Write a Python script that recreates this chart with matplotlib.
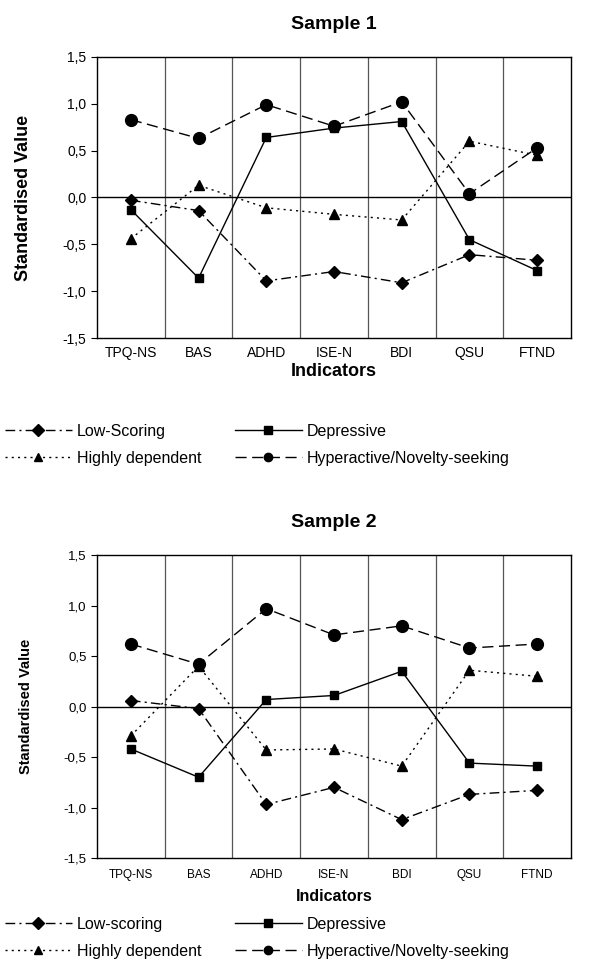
import matplotlib
matplotlib.use("Agg")
import matplotlib.pyplot as plt
from matplotlib.ticker import FuncFormatter

# ================================================================
# Data
# ================================================================
indicators = ["TPQ-NS", "BAS", "ADHD", "ISE-N", "BDI", "QSU", "FTND"]

s1_low = [-0.03, -0.14, -0.89, -0.79, -0.91, -0.61, -0.67]
s1_dep = [-0.13, -0.86, 0.64, 0.74, 0.81, -0.45, -0.78]
s1_high = [-0.44, 0.13, -0.11, -0.18, -0.24, 0.60, 0.45]
s1_hyper = [0.83, 0.63, 0.99, 0.76, 1.02, 0.04, 0.53]

s2_low = [0.06, -0.02, -0.97, -0.80, -1.12, -0.87, -0.83]
s2_dep = [-0.42, -0.70, 0.07, 0.11, 0.35, -0.56, -0.59]
s2_high = [-0.29, 0.40, -0.43, -0.42, -0.59, 0.36, 0.30]
s2_hyper = [0.62, 0.42, 0.97, 0.71, 0.80, 0.58, 0.62]

yticks = [-1.5, -1.0, -0.5, 0.0, 0.5, 1.0, 1.5]

fig = plt.figure(figsize=(6.14, 9.8), dpi=100)
plt.rcParams['font.family'] = ['Liberation Sans', 'DejaVu Sans']

comma = FuncFormatter(lambda v, p: f"{v:.1f}".replace(".", ","))


def draw_panel(ax, low, dep, high, hyper, title, low_name, big, leg_top):
    x = list(range(len(indicators)))
    ax.set_xlim(-0.5, len(indicators) - 0.5)
    ax.set_ylim(-1.5, 1.5)
    # Vertikale Trennlinien zwischen Kategorien
    for b in range(len(indicators) - 1):
        ax.axvline(b + 0.5, color="#555555", linewidth=0.9, zorder=1)
    ax.axhline(0, color="black", linewidth=1.0, zorder=1)

    l1, = ax.plot(x, low, color="black", linewidth=1.0, linestyle=(0, (7, 3, 1.5, 3)),
                  marker="D", markersize=6.5, label=low_name, zorder=3)
    l2, = ax.plot(x, high, color="black", linewidth=1.0, linestyle=(0, (1.5, 3)),
                  marker="^", markersize=7, label="Highly dependent", zorder=3)
    l3, = ax.plot(x, dep, color="black", linewidth=1.0, linestyle="-",
                  marker="s", markersize=6, label="Depressive", zorder=3)
    l4, = ax.plot(x, hyper, color="black", linewidth=1.0, linestyle=(0, (8, 4)),
                  marker="o", markersize=8.5, label="Hyperactive/Novelty-seeking", zorder=3)

    ax.set_yticks(yticks)
    ax.yaxis.set_major_formatter(comma)
    ax.set_xticks(x)
    ax.set_xticklabels(indicators)
    ax.tick_params(axis="x", length=0, labelsize=10 if big else 8.5, pad=6 if big else 8)
    ax.tick_params(axis="y", length=4, direction="out", labelsize=10 if big else 9.5)
    for sp in ax.spines.values():
        sp.set_linewidth(1.0)

    ax.set_title(title, fontsize=14, fontweight="bold", pad=20)
    ax.set_ylabel("Standardised Value", fontsize=13 if big else 10.5, fontweight="bold",
                  labelpad=22)
    ax.set_xlabel("Indicators", fontsize=13 if big else 11.5, fontweight="bold",
                  labelpad=2 if big else 6)

    leg = ax.legend([l1, l2, l3, l4], [h.get_label() for h in (l1, l2, l3, l4)],
                    ncol=2, loc="upper left", bbox_to_anchor=(0.008, leg_top),
                    bbox_transform=fig.transFigure, borderaxespad=0, borderpad=0,
                    frameon=False, handlelength=4.2, fontsize=11.5, columnspacing=2.1,
                    labelspacing=0.75, handletextpad=0.3)
    for lh in leg.get_lines():
        lh.set_markersize(6)
    return ax


ax1 = fig.add_axes([0.158, 0.655, 0.772, 0.287])
draw_panel(ax1, s1_low, s1_dep, s1_high, s1_hyper, "Sample 1", "Low-Scoring", True,
           1 - 424 / 980)

ax2 = fig.add_axes([0.158, 0.1245, 0.772, 0.309])
draw_panel(ax2, s2_low, s2_dep, s2_high, s2_hyper, "Sample 2", "Low-scoring", False,
           1 - 917 / 980)

fig.savefig("out.png", dpi=100)
